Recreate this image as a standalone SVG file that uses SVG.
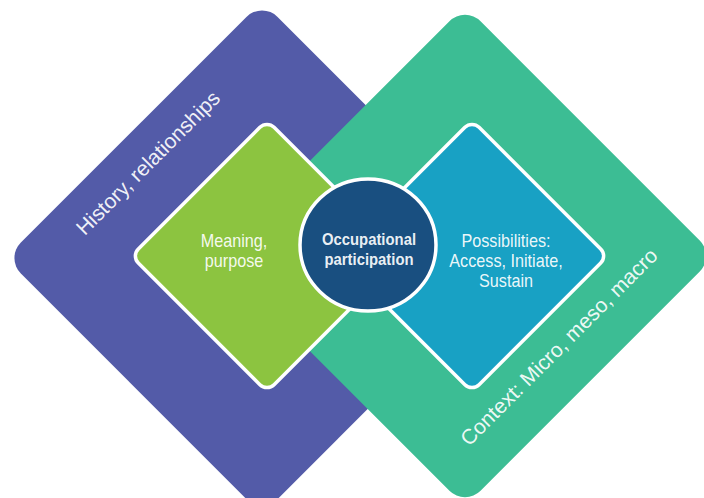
<svg xmlns="http://www.w3.org/2000/svg" width="704" height="498" viewBox="0 0 704 498">
  <style>
    .label { font-family: "Liberation Sans", Arial, sans-serif; fill: #ffffff; fill-opacity: 0.93; text-anchor: middle; }
    .inner { font-size: 18px; }
    .edge { font-size: 21px; }
    .core { font-size: 16.5px; font-weight: bold; }
    .ring { stroke: #ffffff; stroke-width: 3.5; }
  </style>

  <!-- outer field: history and relationships -->
  <g id="history">
    <rect x="-181.5" y="-181.5" width="363" height="363" rx="22" fill="#535ba8" transform="translate(262 258) rotate(45)"/>
    <text class="label edge" transform="translate(153 168) rotate(-45)">History, relationships</text>
  </g>

  <!-- outer field: context -->
  <g id="context">
    <rect x="-177" y="-177" width="354" height="354" rx="22" fill="#3cbd94" transform="translate(465 256) rotate(45)"/>
    <text class="label edge" transform="translate(564 352) rotate(-45)">Context: Micro, meso, macro</text>
  </g>

  <!-- inner field: meaning -->
  <g id="meaning">
    <rect class="ring" x="-96" y="-96" width="192" height="192" rx="10" fill="#8cc440" transform="translate(267 256) rotate(45)"/>
    <g transform="translate(234 0) scale(0.9 1)">
      <text class="label inner" x="0" y="247">Meaning,</text>
      <text class="label inner" x="0" y="267">purpose</text>
    </g>
  </g>

  <!-- inner field: possibilities -->
  <g id="possibilities">
    <rect class="ring" x="-96" y="-96" width="192" height="192" rx="10" fill="#18a1c4" transform="translate(472 256) rotate(45)"/>
    <g transform="translate(506 0) scale(0.9 1)">
      <text class="label inner" x="0" y="247">Possibilities:</text>
      <text class="label inner" x="0" y="267">Access, Initiate,</text>
      <text class="label inner" x="0" y="287">Sustain</text>
    </g>
  </g>

  <!-- centre: occupational participation -->
  <g id="participation">
    <ellipse class="ring" cx="368" cy="245" rx="68" ry="66" fill="#194f80" stroke-width="3"/>
    <g transform="translate(369 0) scale(0.9 1)">
      <text class="label core" x="0" y="245">Occupational</text>
      <text class="label core" x="0" y="265">participation</text>
    </g>
  </g>
</svg>
